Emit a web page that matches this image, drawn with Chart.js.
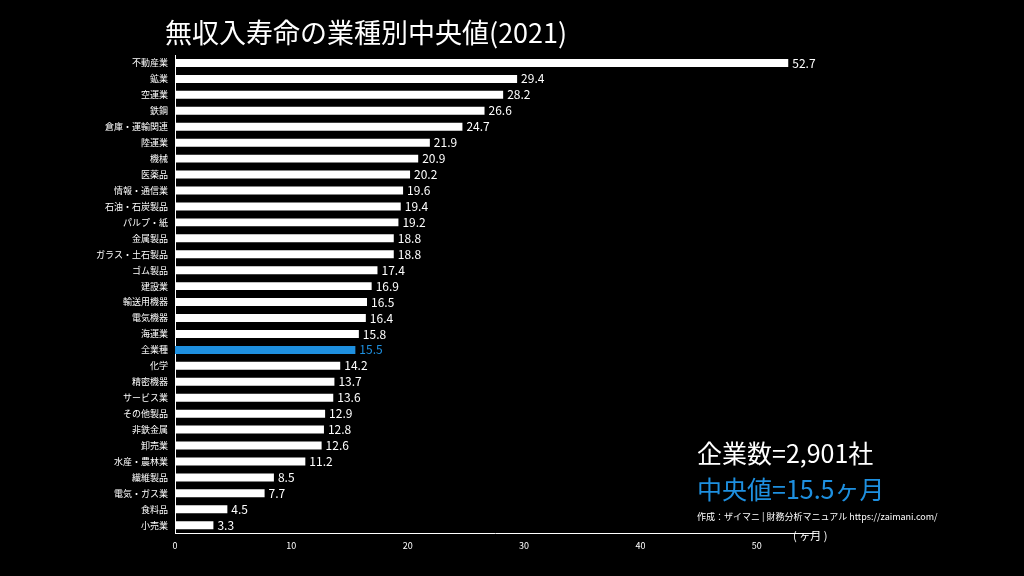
<!DOCTYPE html>
<html><head><meta charset="utf-8">
<script src="https://cdn.jsdelivr.net/npm/chart.js@4/dist/chart.umd.min.js"></script>
<style>
body{margin:0;background:#000;width:1024px;height:576px;overflow:hidden;font-family:"Noto Sans CJK JP",sans-serif}
#wrap{position:absolute;left:0;top:0;width:1024px;height:576px}
.t{position:absolute;color:#fff;white-space:nowrap}
</style></head><body>
<div id="wrap"><canvas id="chart" width="1024" height="576"></canvas></div>
<div class="t" style="left:165px;top:12px;font-size:27px">無収入寿命の業種別中央値(2021)</div>
<div class="t" style="left:697px;top:434px;font-size:25px">企業数=2,901社</div>
<div class="t" style="left:697px;top:470px;font-size:25px;color:#1e90e0">中央値=15.5ヶ月</div>
<div class="t" style="left:697px;top:510px;font-size:9px">作成：ザイマニ | 財務分析マニュアル https://zaimani.com/</div>
<div class="t" style="left:793px;top:527px;font-size:11px">( ヶ月 )</div>
<script>
var categories = ['不動産業','鉱業','空運業','鉄鋼','倉庫・運輸関連','陸運業','機械','医薬品','情報・通信業','石油・石炭製品','パルプ・紙','金属製品','ガラス・土石製品','ゴム製品','建設業','輸送用機器','電気機器','海運業','全業種','化学','精密機器','サービス業','その他製品','非鉄金属','卸売業','水産・農林業','繊維製品','電気・ガス業','食料品','小売業'];
var values = [52.7,29.4,28.2,26.6,24.7,21.9,20.9,20.2,19.6,19.4,19.2,18.8,18.8,17.4,16.9,16.5,16.4,15.8,15.5,14.2,13.7,13.6,12.9,12.8,12.6,11.2,8.5,7.7,4.5,3.3];
var xTicks = [0,10,20,30,40,50];
var highlight = '全業種';

var colors = categories.map(function(c){ return c === highlight ? '#1e90e0' : '#ffffff'; });

// value labels to the right of each bar
var valueLabels = {
	id: 'valueLabels',
	afterDatasetsDraw: function(chart) {
		var ctx = chart.ctx, meta = chart.getDatasetMeta(0);
		ctx.save();
		ctx.font = '12px "Noto Sans CJK JP", sans-serif';
		ctx.textBaseline = 'middle';
		meta.data.forEach(function(bar, i) {
			ctx.fillStyle = colors[i];
			ctx.fillText(values[i].toFixed(1), bar.x + 4, bar.y);
		});
		ctx.restore();
	}
};

Chart.defaults.font.family = '"Noto Sans CJK JP", sans-serif';
new Chart(document.getElementById('chart'), {
	type: 'bar',
	data: {
		labels: categories,
		datasets: [{ data: values, backgroundColor: colors, barPercentage: 0.5, categoryPercentage: 1 }]
	},
	options: {
		indexAxis: 'y',
		responsive: false,
		animation: false,
		layout: { padding: { left: 0, top: 55, right: 209, bottom: 22 } },
		plugins: { legend: { display: false }, tooltip: { enabled: false } },
		scales: {
			x: {
				min: 0, max: 55,
				afterBuildTicks: function(s){ s.ticks = xTicks.map(function(v){ return {value: v}; }); },
				grid: { display: false, drawTicks: true, color: '#fff', tickLength: 4 },
				border: { color: '#fff' },
				ticks: { color: '#fff', font: { size: 9 } }
			},
			y: {
				afterFit: function(s){ s.width = 175; },
				grid: { display: false, color: '#fff', tickLength: 4 },
				border: { color: '#fff' },
				ticks: { color: '#fff', font: { size: 9 }, autoSkip: false }
			}
		}
	},
	plugins: [valueLabels]
});
</script>
</body></html>
